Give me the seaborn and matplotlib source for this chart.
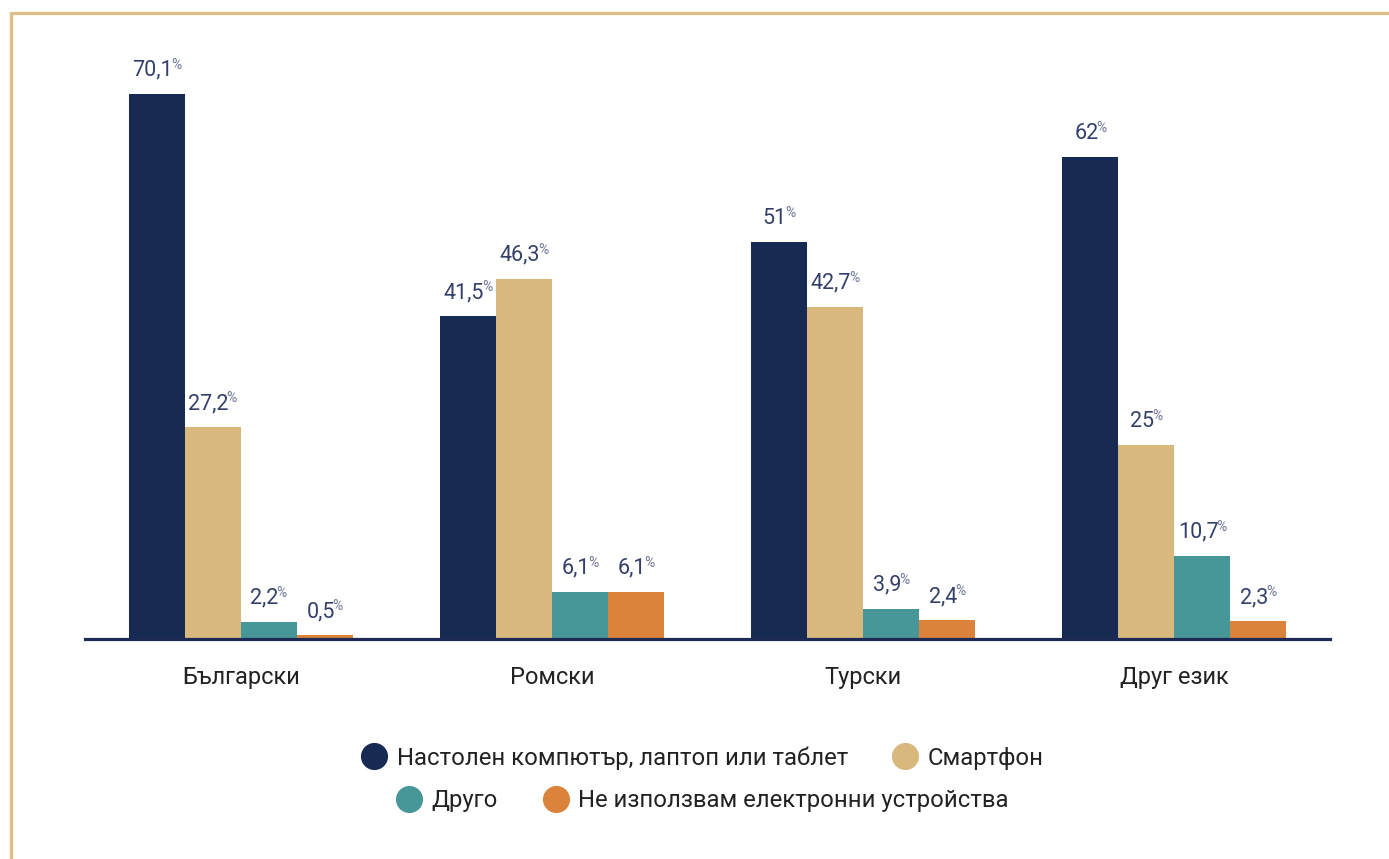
import matplotlib
matplotlib.use("Agg")
import matplotlib.pyplot as plt
from matplotlib.lines import Line2D
import seaborn as sns
import pandas as pd

# ---- data ----
languages = ["Български", "Ромски", "Турски", "Друг език"]
devices = ["Настолен компютър, лаптоп или таблет", "Смартфон", "Друго",
           "Не използвам електронни устройства"]
desktop = [70.1, 41.5, 51, 62]
smartphone = [27.2, 46.3, 42.7, 25]
other = [2.2, 6.1, 3.9, 10.7]
none_dev = [0.5, 6.1, 2.4, 2.3]

colors = ["#172a54", "#d8b87d", "#479799", "#dc833b"]
label_color = "#34406a"
pct_color = "#6f7896"
border_color = "#dcbf85"

rows = []
for series_name, vals in zip(devices, [desktop, smartphone, other, none_dev]):
    for lang, v in zip(languages, vals):
        rows.append({"lang": lang, "device": series_name, "value": v})
df = pd.DataFrame(rows)

sns.set_theme(style="white")
plt.rcParams["font.family"] = ["Roboto", "DejaVu Sans"]

fig = plt.figure(figsize=(13.89, 8.59), dpi=100)
W, H = 1389, 859
ax_left, ax_right = 85 / W, 1330 / W
ax_bottom, ax_top = 1 - 639 / H, 1 - 79 / H
ax = fig.add_axes([ax_left, ax_bottom, ax_right - ax_left, ax_top - ax_bottom])

sns.barplot(data=df, x="lang", y="value", hue="device", hue_order=devices,
            order=languages, palette=colors, saturation=1, width=0.72,
            dodge=True, legend=False, ax=ax, errorbar=None, linewidth=0)

ax.set_xlim(-0.5, 3.5)
ax.set_ylim(0, 72)
ax.set_xlabel("")
ax.set_ylabel("")
ax.set_yticks([])
for s in ["top", "right", "left"]:
    ax.spines[s].set_visible(False)
ax.spines["bottom"].set_color("#1c2a55")
ax.spines["bottom"].set_linewidth(2.3)
ax.spines["bottom"].set_zorder(5)
ax.tick_params(axis="x", length=0, pad=19.5, labelsize=17, labelcolor="#222222")

# value labels
renderer = fig.canvas.get_renderer()
for container in ax.containers:
    for bar in container:
        v = bar.get_height()
        xc = bar.get_x() + bar.get_width() / 2
        num = f"{v:g}".replace(".", ",")
        t = ax.annotate(num, (xc, v), xytext=(0, 18), textcoords="offset pixels",
                        ha="center", va="baseline", fontsize=15.5, color=label_color)
        p = ax.annotate("%", (xc, v), xytext=(0, 18), textcoords="offset pixels",
                        ha="left", va="baseline", fontsize=10, color=pct_color)
        w1 = t.get_window_extent(renderer).width
        w2 = p.get_window_extent(renderer).width
        t.xyann = (-w2 / 2 + 1, 18)
        p.xyann = (w1 / 2 - w2 / 2 - 1, 25)

# legends (two centered rows)
def handle(c):
    return Line2D([], [], marker="o", linestyle="none", markersize=18.5,
                  markerfacecolor=c, markeredgecolor=c)

leg_kw = dict(frameon=False, handlelength=1.0, handletextpad=0.45,
              columnspacing=1.9, ncol=2, loc="center", borderpad=0,
              labelcolor="#222222", prop={"size": 17.2})
fig.legend([handle(colors[0]), handle(colors[1])], devices[:2],
           bbox_to_anchor=(703 / W, 1 - 758 / H), **leg_kw)
fig.legend([handle(colors[2]), handle(colors[3])], devices[2:],
           bbox_to_anchor=(703 / W, 1 - 801 / H), **leg_kw)

# decorative border (top and left)
fig.add_artist(Line2D([10.5 / W, 1.0], [1 - 13 / H, 1 - 13 / H],
                      transform=fig.transFigure, color=border_color, linewidth=2.3))
fig.add_artist(Line2D([10.5 / W, 10.5 / W], [0, 1 - 13 / H],
                      transform=fig.transFigure, color=border_color, linewidth=2.3))

fig.savefig("out.png", dpi=100, facecolor="white")
